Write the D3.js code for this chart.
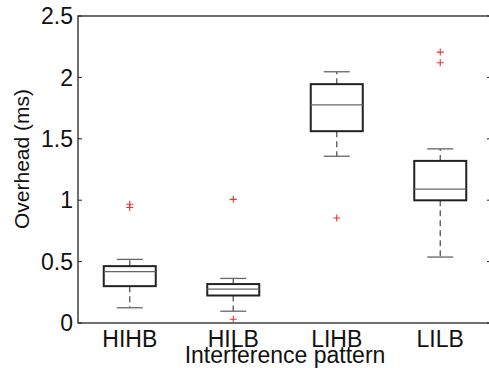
<!DOCTYPE html>
<html>
<head>
<meta charset="utf-8">
<script src="https://cdn.jsdelivr.net/npm/d3@7"></script>
<style>
  body { margin: 0; background: #fff; }
  text { font-family: "Liberation Sans", Arial, sans-serif; fill: #111; }
</style>
</head>
<body>
<div id="chart"></div>
<script>
// Box plot values
const categories = ["HIHB", "HILB", "LIHB", "LILB"];
const whiskerLow  = [0.124, 0.096, 1.358, 0.537];
const q1          = [0.300, 0.224, 1.562, 0.999];
const medians     = [0.418, 0.276, 1.777, 1.091];
const q3          = [0.463, 0.317, 1.945, 1.320];
const whiskerHigh = [0.518, 0.363, 2.046, 1.418];
const outliers    = [[0.967, 0.940], [1.007, 0.031], [0.855], [2.206, 2.119]];
const yTicks = [0, 0.5, 1, 1.5, 2, 2.5];

const width = 489, height = 368;
const margin = {left: 78, right: -3, top: 16, bottom: 45};

const svg = d3.select("#chart").append("svg")
    .attr("width", width)
    .attr("height", height);

const x = d3.scaleLinear()
    .domain([0.5, 4.5])
    .range([margin.left, width - margin.right]);

const y = d3.scaleLinear()
    .domain([0, 2.5])
    .range([height - margin.bottom, margin.top]);

const boxW = 52;

// frame
svg.append("rect")
    .attr("x", x(0.5)).attr("y", y(2.5))
    .attr("width", x(4.5) - x(0.5)).attr("height", y(0) - y(2.5))
    .attr("fill", "none").attr("stroke", "#222").attr("stroke-width", 1.3);

// y ticks on both sides (inward)
const tickG = svg.append("g");
tickG.selectAll("line.l").data(yTicks).join("line")
    .attr("x1", x(0.5)).attr("x2", x(0.5) + 4)
    .attr("y1", d => y(d)).attr("y2", d => y(d))
    .attr("stroke", "#222");
tickG.selectAll("line.r").data(yTicks).join("line")
    .attr("x1", x(4.5)).attr("x2", x(4.5) - 5)
    .attr("y1", d => y(d)).attr("y2", d => y(d))
    .attr("stroke", "#222");
tickG.selectAll("text").data(yTicks).join("text")
    .attr("x", x(0.5) - 5)
    .attr("y", d => y(d))
    .attr("dy", "0.36em")
    .attr("text-anchor", "end")
    .attr("font-size", "23px")
    .text(d => d);

// category labels
svg.append("g").selectAll("text").data(categories).join("text")
    .attr("x", (d, i) => x(i + 1))
    .attr("y", 347)
    .attr("text-anchor", "middle")
    .attr("font-size", "23px")
    .text(d => d);

// axis titles
svg.append("text")
    .attr("x", 285).attr("y", 363)
    .attr("text-anchor", "middle")
    .attr("font-size", "23px")
    .text("Interference pattern");

svg.append("text")
    .attr("transform", "translate(29,159) rotate(-90)")
    .attr("text-anchor", "middle")
    .attr("font-size", "21px")
    .text("Overhead (ms)");

// boxes
const boxes = svg.append("g").selectAll("g").data(categories).join("g")
    .attr("transform", (d, i) => `translate(${x(i + 1)},0)`);

// whiskers (dashed)
boxes.append("line")
    .attr("y1", (d, i) => y(q3[i])).attr("y2", (d, i) => y(whiskerHigh[i]))
    .attr("stroke", "#555").attr("stroke-width", 1.3)
    .attr("stroke-dasharray", "6,4");
boxes.append("line")
    .attr("y1", (d, i) => y(q1[i])).attr("y2", (d, i) => y(whiskerLow[i]))
    .attr("stroke", "#555").attr("stroke-width", 1.3)
    .attr("stroke-dasharray", "6,4");

// caps
boxes.append("line")
    .attr("x1", -13).attr("x2", 13)
    .attr("y1", (d, i) => y(whiskerHigh[i])).attr("y2", (d, i) => y(whiskerHigh[i]))
    .attr("stroke", "#666").attr("stroke-width", 1.3);
boxes.append("line")
    .attr("x1", -13).attr("x2", 13)
    .attr("y1", (d, i) => y(whiskerLow[i])).attr("y2", (d, i) => y(whiskerLow[i]))
    .attr("stroke", "#666").attr("stroke-width", 1.3);

// box
boxes.append("rect")
    .attr("x", -boxW / 2).attr("width", boxW)
    .attr("y", (d, i) => y(q3[i]))
    .attr("height", (d, i) => y(q1[i]) - y(q3[i]))
    .attr("fill", "none").attr("stroke", "#222").attr("stroke-width", 2);

// median
boxes.append("line")
    .attr("x1", -boxW / 2).attr("x2", boxW / 2)
    .attr("y1", (d, i) => y(medians[i])).attr("y2", (d, i) => y(medians[i]))
    .attr("stroke", "#666").attr("stroke-width", 1.2);

// outliers as red plus signs
boxes.each(function (d, i) {
    const g = d3.select(this);
    outliers[i].forEach(v => {
        g.append("path")
            .attr("d", `M-3.5,${y(v)}h7M0,${y(v) - 3.5}v7`)
            .attr("stroke", "#f03030").attr("stroke-width", 1.1);
    });
});
</script>
</body>
</html>
